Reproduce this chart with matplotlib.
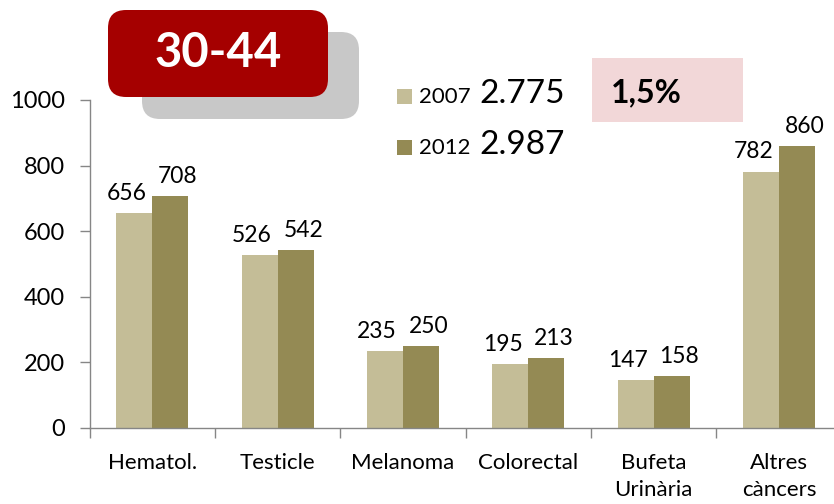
import matplotlib
matplotlib.use("Agg")
import matplotlib.pyplot as plt
from matplotlib.patches import FancyBboxPatch, Rectangle
from matplotlib.transforms import IdentityTransform
import numpy as np

plt.rcParams['font.family'] = ['Lato', 'DejaVu Sans']

categories = ["Hematol.", "Testicle", "Melanoma", "Colorectal", "Bufeta\nUrinària", "Altres\ncàncers"]
values_2007 = [656, 526, 235, 195, 147, 782]
values_2012 = [708, 542, 250, 213, 158, 860]
series_names = ["2007", "2012"]
totals = ["2.775", "2.987"]
change_label = "1,5%"
title_label = "30-44"
yticks = [0, 200, 400, 600, 800, 1000]

c_light = "#C4BD97"
c_dark = "#948A54"
axis_col = "#868686"

W, H = 834, 504
fig = plt.figure(figsize=(W / 100, H / 100), dpi=100)

def px(x0, y0, x1, y1):
    # pixel box (top-left origin) -> display coords (bottom-left origin)
    return x0, H - y1, x1 - x0, y1 - y0

ax = fig.add_axes([89.6 / W, (H - 428) / H, 752 / W, 328 / H])
x = np.arange(len(categories))
bw = 0.288
ax.bar(x - bw / 2, values_2007, bw, color=c_light, zorder=2)
ax.bar(x + bw / 2, values_2012, bw, color=c_dark, zorder=2)

for xi, v in zip(x - bw / 2, values_2007):
    ax.annotate(str(v), (xi, v), xytext=(-5.5, 9.5), textcoords="offset points",
                ha="center", va="baseline", fontsize=16.5)
for xi, v in zip(x + bw / 2, values_2012):
    ax.annotate(str(v), (xi, v), xytext=(5.5, 9.5), textcoords="offset points",
                ha="center", va="baseline", fontsize=16.5)

ax.set_xlim(-0.5, len(categories) - 0.5)
ax.set_ylim(0, 1000)
ax.set_yticks(yticks)
ax.set_yticklabels([str(t) for t in yticks], fontsize=17)
ax.set_xticks(x)
ax.set_xticklabels(categories, fontsize=16, linespacing=1.45, va="top")
ax.set_xticks(np.arange(-0.5, len(categories)), minor=True)
ax.tick_params(axis="x", which="major", length=0, pad=18)
ax.tick_params(axis="x", which="minor", length=7, color=axis_col, width=1)
ax.tick_params(axis="y", length=7, color=axis_col, width=1, pad=11)
for s in ["top", "right"]:
    ax.spines[s].set_visible(False)
for s in ["left", "bottom"]:
    ax.spines[s].set_color(axis_col)
    ax.spines[s].set_linewidth(1)

tr = IdentityTransform()
# gray shadow box
x0, y0, w, h = px(142, 32, 359, 119)
fig.patches.append(FancyBboxPatch((x0, y0), w, h, boxstyle="round,pad=0,rounding_size=18",
                                  transform=tr, facecolor="#C8C8C8", edgecolor="none", zorder=5))
# red title box
x0, y0, w, h = px(108, 10, 328, 97)
fig.patches.append(FancyBboxPatch((x0, y0), w, h, boxstyle="round,pad=0,rounding_size=18",
                                  transform=tr, facecolor="#A50000", edgecolor="none", zorder=6))
fig.text(218 / W, 1 - 53 / H, title_label, color="white", fontsize=34, fontweight="bold",
         ha="center", va="center", zorder=7)

# pink box
x0, y0, w, h = px(592, 58, 743, 122)
fig.patches.append(Rectangle((x0, y0), w, h, transform=tr, facecolor="#F2D7D8",
                             edgecolor="none", zorder=5))
fig.text(611 / W, 1 - 93 / H, change_label, fontsize=23, fontweight="bold",
         ha="left", va="center", zorder=7)

# legend
for i, (name, tot, col) in enumerate(zip(series_names, totals, [c_light, c_dark])):
    cy = 96 + i * 51
    x0, y0, w, h = px(397, cy - 7.5, 412, cy + 7.5)
    fig.patches.append(Rectangle((x0, y0), w, h, transform=tr, facecolor=col,
                                 edgecolor="none", zorder=5))
    fig.text(419 / W, 1 - (cy + 1) / H, name, fontsize=16, ha="left", va="center", zorder=7)
    fig.text(479 / W, 1 - (cy - 2) / H, tot, fontsize=24, ha="left", va="center", zorder=7)

fig.savefig("out.png", dpi=100)
